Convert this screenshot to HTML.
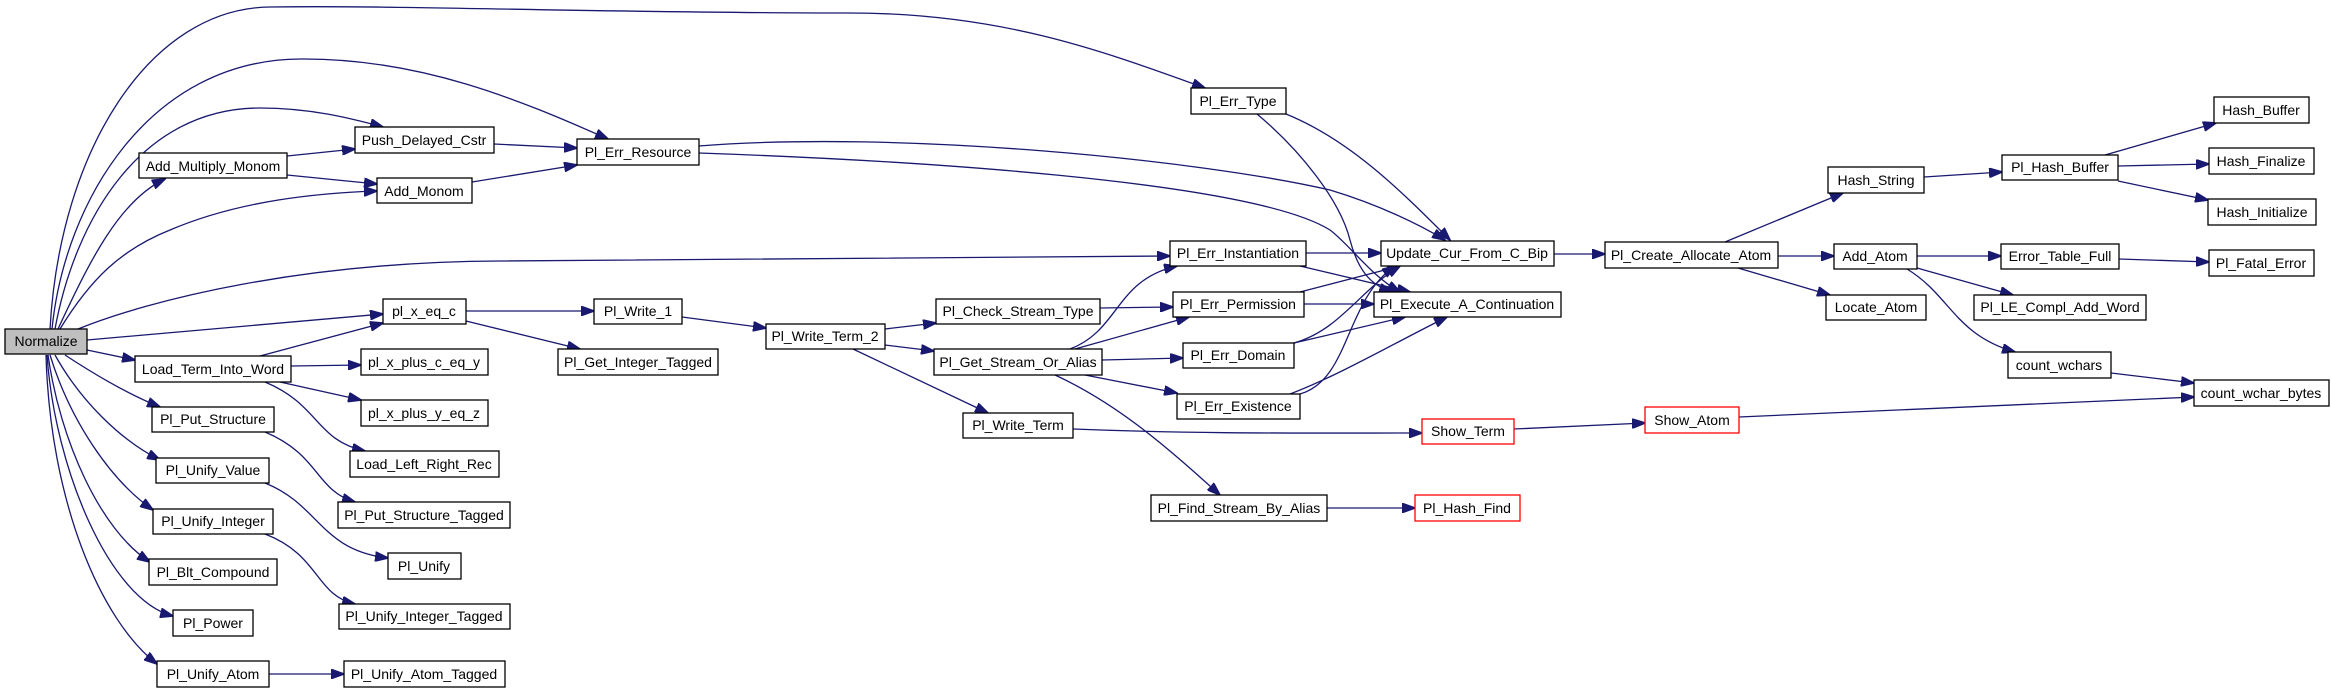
<!DOCTYPE html>
<html><head><meta charset="utf-8"><style>
html,body{margin:0;padding:0;background:#fff;}
svg{display:block;}
text{font-family:"Liberation Sans",sans-serif;font-size:14px;fill:#000;text-anchor:middle;}
.e{fill:none;stroke:#191970;stroke-width:1.3;marker-end:url(#a);}
.b{fill:#fff;stroke:#000;stroke-width:1.3;}
.r{fill:#fff;stroke:#ff0000;stroke-width:1.3;}
</style></head><body>
<svg width="2331" height="690" viewBox="0 0 2331 690" xmlns="http://www.w3.org/2000/svg">
<defs><marker id="a" markerUnits="userSpaceOnUse" markerWidth="14" markerHeight="10" refX="13" refY="5" orient="auto"><path d="M0,0 L14,5 L0,10 Z" fill="#191970" stroke="#191970"/></marker></defs>
<g>
<path class="e" d="M50,329 C60,150 150,8 270,7 C400,5 600,13 850,13 C1000,13 1100,50 1205,88"/>
<path class="e" d="M52,329 C65,200 150,60 300,59 C420,58 520,100 608,139"/>
<path class="e" d="M55,329 C75,220 140,108 260,108 C310,108 350,118 383,127"/>
<path class="e" d="M58,329 C90,260 120,200 165,179"/>
<path class="e" d="M60,329 C90,280 120,250 170,230 C240,200 320,193 377,191"/>
<path class="e" d="M78,329 C150,300 300,262 500,261 L1170,256"/>
<path class="e" d="M87,340 L383,314"/>
<path class="e" d="M87,350 L135,360"/>
<path class="e" d="M65,355 C100,378 130,395 160,407"/>
<path class="e" d="M55,355 C80,400 120,440 160,460"/>
<path class="e" d="M50,355 C70,420 110,480 153,510"/>
<path class="e" d="M48,355 C60,440 100,530 150,562"/>
<path class="e" d="M47,355 C55,470 110,600 173,616"/>
<path class="e" d="M46,355 C50,500 100,620 157,664"/>
<path class="e" d="M287,156 L355,149"/>
<path class="e" d="M287,175 L377,184"/>
<path class="e" d="M494,144 L577,148"/>
<path class="e" d="M472,182 L577,165"/>
<path class="e" d="M699,146 C900,130 1200,160 1330,190 C1380,205 1420,225 1445,240"/>
<path class="e" d="M699,153 C900,160 1250,180 1330,230 C1350,245 1370,275 1400,292"/>
<path class="e" d="M1286,114 C1350,140 1400,190 1450,240"/>
<path class="e" d="M1257,114 C1300,150 1340,200 1350,240 C1358,270 1370,285 1392,292"/>
<path class="e" d="M1306,253 L1381,253"/>
<path class="e" d="M1300,266 L1410,292"/>
<path class="e" d="M1300,292 L1400,266"/>
<path class="e" d="M1304,304 L1374,304"/>
<path class="e" d="M1294,343 C1340,330 1360,290 1400,266"/>
<path class="e" d="M1294,343 L1405,317"/>
<path class="e" d="M1300,394 C1350,380 1345,300 1395,266"/>
<path class="e" d="M1290,394 C1340,375 1400,340 1447,317"/>
<path class="e" d="M1554,254 L1605,254"/>
<path class="e" d="M466,311 L594,311"/>
<path class="e" d="M466,321 L580,349"/>
<path class="e" d="M260,356 L383,323"/>
<path class="e" d="M291,366 L361,365"/>
<path class="e" d="M280,382 L361,400"/>
<path class="e" d="M265,382 C320,405 315,440 365,451"/>
<path class="e" d="M265,432 C320,455 315,490 355,502"/>
<path class="e" d="M265,483 C320,505 320,550 388,558"/>
<path class="e" d="M265,534 C320,555 315,595 355,604"/>
<path class="e" d="M269,674 L344,674"/>
<path class="e" d="M682,317 L766,328"/>
<path class="e" d="M885,329 L936,323"/>
<path class="e" d="M885,345 L934,351"/>
<path class="e" d="M853,349 L988,413"/>
<path class="e" d="M1100,308 L1173,307"/>
<path class="e" d="M1070,349 C1120,330 1115,280 1177,266"/>
<path class="e" d="M1075,349 L1189,317"/>
<path class="e" d="M1102,360 L1183,358"/>
<path class="e" d="M1085,375 L1177,393"/>
<path class="e" d="M1055,375 C1120,405 1170,450 1220,495"/>
<path class="e" d="M1073,429 C1200,434 1300,433 1422,433"/>
<path class="e" d="M1514,429 L1645,423"/>
<path class="e" d="M1327,508 L1415,508"/>
<path class="e" d="M1739,417 L2194,397"/>
<path class="e" d="M1725,242 L1843,193"/>
<path class="e" d="M1778,256 L1834,256"/>
<path class="e" d="M1738,268 L1830,295"/>
<path class="e" d="M1924,177 L2002,172"/>
<path class="e" d="M2105,155 L2216,123"/>
<path class="e" d="M2118,166 L2209,164"/>
<path class="e" d="M2118,181 L2208,200"/>
<path class="e" d="M1917,256 L2001,256"/>
<path class="e" d="M1917,268 L2013,295"/>
<path class="e" d="M1907,269 C1950,295 1955,335 2015,352"/>
<path class="e" d="M2119,259 L2209,262"/>
<path class="e" d="M2111,373 L2194,383"/>
</g>
<g>
<rect x="5" y="329" width="82" height="25" fill="#bfbfbf" stroke="#000" stroke-width="1.3"/><text x="46" y="346">Normalize</text>
<rect class="b" x="355" y="127" width="139" height="26"/><text x="424" y="145">Push_Delayed_Cstr</text>
<rect class="b" x="577" y="139" width="122" height="26"/><text x="638" y="157">Pl_Err_Resource</text>
<rect class="b" x="139" y="153" width="148" height="25"/><text x="213" y="171">Add_Multiply_Monom</text>
<rect class="b" x="377" y="178" width="95" height="25"/><text x="424" y="196">Add_Monom</text>
<rect class="b" x="383" y="299" width="83" height="25"/><text x="424" y="316">pl_x_eq_c</text>
<rect class="b" x="594" y="299" width="88" height="25"/><text x="638" y="316">Pl_Write_1</text>
<rect class="b" x="135" y="356" width="156" height="26"/><text x="213" y="374">Load_Term_Into_Word</text>
<rect class="b" x="361" y="349" width="127" height="26"/><text x="424" y="367">pl_x_plus_c_eq_y</text>
<rect class="b" x="558" y="349" width="160" height="26"/><text x="638" y="367">Pl_Get_Integer_Tagged</text>
<rect class="b" x="361" y="400" width="127" height="26"/><text x="424" y="418">pl_x_plus_y_eq_z</text>
<rect class="b" x="152" y="407" width="122" height="25"/><text x="213" y="424">Pl_Put_Structure</text>
<rect class="b" x="350" y="451" width="149" height="26"/><text x="424" y="469">Load_Left_Right_Rec</text>
<rect class="b" x="156" y="458" width="113" height="25"/><text x="213" y="475">Pl_Unify_Value</text>
<rect class="b" x="338" y="502" width="172" height="26"/><text x="424" y="520">Pl_Put_Structure_Tagged</text>
<rect class="b" x="153" y="509" width="120" height="25"/><text x="213" y="526">Pl_Unify_Integer</text>
<rect class="b" x="388" y="553" width="73" height="26"/><text x="424" y="571">Pl_Unify</text>
<rect class="b" x="149" y="559" width="128" height="26"/><text x="213" y="577">Pl_Blt_Compound</text>
<rect class="b" x="339" y="604" width="171" height="25"/><text x="424" y="621">Pl_Unify_Integer_Tagged</text>
<rect class="b" x="173" y="610" width="80" height="26"/><text x="213" y="628">Pl_Power</text>
<rect class="b" x="157" y="661" width="112" height="26"/><text x="213" y="679">Pl_Unify_Atom</text>
<rect class="b" x="344" y="661" width="161" height="26"/><text x="424" y="679">Pl_Unify_Atom_Tagged</text>
<rect class="b" x="1191" y="88" width="95" height="26"/><text x="1238" y="106">Pl_Err_Type</text>
<rect class="b" x="1170" y="241" width="136" height="25"/><text x="1238" y="258">Pl_Err_Instantiation</text>
<rect class="b" x="1381" y="241" width="173" height="25"/><text x="1467" y="258">Update_Cur_From_C_Bip</text>
<rect class="b" x="1173" y="292" width="131" height="25"/><text x="1238" y="309">Pl_Err_Permission</text>
<rect class="b" x="1374" y="292" width="187" height="25"/><text x="1467" y="309">Pl_Execute_A_Continuation</text>
<rect class="b" x="936" y="299" width="164" height="25"/><text x="1018" y="316">Pl_Check_Stream_Type</text>
<rect class="b" x="766" y="324" width="119" height="25"/><text x="825" y="341">Pl_Write_Term_2</text>
<rect class="b" x="934" y="349" width="168" height="26"/><text x="1018" y="367">Pl_Get_Stream_Or_Alias</text>
<rect class="b" x="1183" y="343" width="111" height="25"/><text x="1238" y="360">Pl_Err_Domain</text>
<rect class="b" x="1177" y="394" width="123" height="25"/><text x="1238" y="411">Pl_Err_Existence</text>
<rect class="b" x="963" y="413" width="110" height="25"/><text x="1018" y="430">Pl_Write_Term</text>
<rect class="r" x="1422" y="419" width="92" height="25"/><text x="1468" y="436">Show_Term</text>
<rect class="b" x="1151" y="495" width="176" height="26"/><text x="1239" y="513">Pl_Find_Stream_By_Alias</text>
<rect class="r" x="1415" y="495" width="105" height="26"/><text x="1467" y="513">Pl_Hash_Find</text>
<rect class="b" x="2214" y="97" width="95" height="26"/><text x="2261" y="115">Hash_Buffer</text>
<rect class="b" x="2002" y="155" width="116" height="25"/><text x="2060" y="172">Pl_Hash_Buffer</text>
<rect class="b" x="2209" y="148" width="105" height="26"/><text x="2261" y="166">Hash_Finalize</text>
<rect class="b" x="1828" y="167" width="96" height="26"/><text x="1876" y="185">Hash_String</text>
<rect class="b" x="2208" y="199" width="108" height="26"/><text x="2262" y="217">Hash_Initialize</text>
<rect class="b" x="1605" y="242" width="173" height="26"/><text x="1691" y="260">Pl_Create_Allocate_Atom</text>
<rect class="b" x="1834" y="244" width="83" height="25"/><text x="1875" y="261">Add_Atom</text>
<rect class="b" x="2001" y="244" width="118" height="25"/><text x="2060" y="261">Error_Table_Full</text>
<rect class="b" x="2209" y="250" width="105" height="26"/><text x="2261" y="268">Pl_Fatal_Error</text>
<rect class="b" x="1826" y="295" width="100" height="25"/><text x="1876" y="312">Locate_Atom</text>
<rect class="b" x="1974" y="295" width="172" height="25"/><text x="2060" y="312">Pl_LE_Compl_Add_Word</text>
<rect class="b" x="2008" y="352" width="103" height="26"/><text x="2059" y="370">count_wchars</text>
<rect class="b" x="2194" y="380" width="135" height="26"/><text x="2261" y="398">count_wchar_bytes</text>
<rect class="r" x="1645" y="407" width="94" height="26"/><text x="1692" y="425">Show_Atom</text>
</g>
</svg>
</body></html>
